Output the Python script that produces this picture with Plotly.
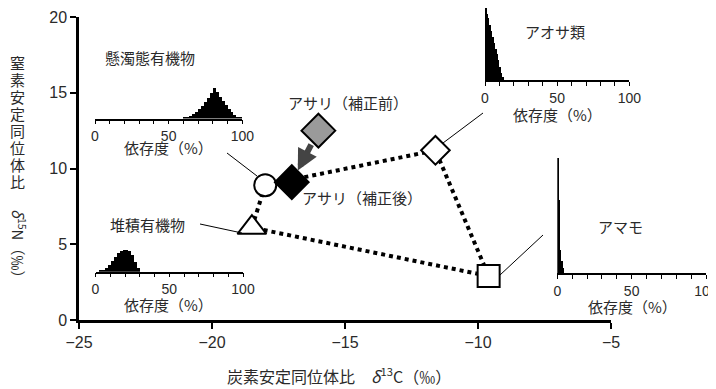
import plotly.graph_objects as go

W, H = 716, 389
OFF = 8  # page body margin offset
def PX(x): return (x - OFF) / W
def PY(y): return 1 - (y - OFF) / H

# ---- data (δ13C, δ15N) ----
src_names = ["懸濁態有機物", "アオサ類", "アマモ", "堆積有機物"]
src_d13c = [-18.0, -11.6, -9.6, -18.5]
src_d15n = [8.9, 11.2, 2.9, 6.1]
src_symbols = ["circle", "diamond", "square", "triangle-up"]
src_sizes = [22, 22, 22, 25]
clam_labels = ["アサリ（補正前）", "アサリ（補正後）"]
clam_d13c = [-16.0, -17.0]
clam_d15n = [12.5, 9.1]
clam_colors = ["#9a9a9a", "#000000"]

x_ticks = [-25, -20, -15, -10, -5]
y_ticks = [0, 5, 10, 15, 20]

# ---- dependence histograms (bin left edge %, relative frequency) ----
pom_bins = list(range(60, 100, 2))
pom_counts = [1, 2, 3, 5, 7, 10, 13, 17, 21, 26, 31, 27, 22, 18, 14, 10, 7, 4, 2, 1]
ulva_bins = list(range(0, 13))
ulva_counts = [72, 66, 62, 55, 49, 43, 37, 31, 26, 20, 13, 7, 3]
sed_bins = list(range(2, 30, 2))
sed_counts = [1, 2, 4, 7, 11, 15, 19, 21, 22, 22, 21, 17, 10, 4]
zos_bins = [0, 1, 2, 3, 4]
zos_counts = [115, 73, 23, 12, 5]
dep_ticks = list(range(0, 101, 10))
dep_ticktext = ["0" if v == 0 else "50" if v == 50 else "100" if v == 100 else "" for v in dep_ticks]

CJK = "Noto Sans CJK JP"
NUM = "Liberation Sans Narrow, Liberation Sans, Noto Sans CJK JP"
TXT = "#2a2a2a"

fig = go.Figure()

# mixing polygon (dotted)
order = [0, 1, 2, 3, 0]
fig.add_trace(go.Scatter(x=[src_d13c[i] for i in order], y=[src_d15n[i] for i in order],
                         mode="lines", line=dict(color="black", width=4, dash="dot"),
                         hoverinfo="skip", showlegend=False))
# source markers
for i in range(len(src_names)):
    fig.add_trace(go.Scatter(x=[src_d13c[i]], y=[src_d15n[i]], mode="markers", name=src_names[i],
                             opacity=1,
                             marker=dict(symbol=src_symbols[i], size=src_sizes[i], color="white",
                                         opacity=1, line=dict(color="black", width=2)),
                             showlegend=False))
# clam markers
for i in range(len(clam_labels)):
    fig.add_trace(go.Scatter(x=[clam_d13c[i]], y=[clam_d15n[i]], mode="markers", name=clam_labels[i],
                             opacity=1,
                             marker=dict(symbol="diamond", size=26, color=clam_colors[i], opacity=1,
                                         line=dict(color="black", width=2)),
                             showlegend=False))

# inset histograms
insets = [
    (pom_bins, pom_counts, 2, "x2", "y2"),
    (ulva_bins, ulva_counts, 1, "x3", "y3"),
    (sed_bins, sed_counts, 2, "x4", "y4"),
    (zos_bins, zos_counts, 1, "x5", "y5"),
]
for bins, counts, bw, xa, ya in insets:
    fig.add_trace(go.Bar(x=[b + bw / 2 for b in bins], y=counts, width=bw,
                         marker=dict(color="black", line=dict(width=0)),
                         xaxis=xa, yaxis=ya, showlegend=False, hoverinfo="skip"))

axis_common = dict(showgrid=False, zeroline=False, showline=True, linecolor="black",
                   ticks="outside", tickcolor="black", automargin=False)
layout = dict(
    width=W, height=H, autosize=False,
    margin=dict(l=0, r=0, t=0, b=0, pad=0, autoexpand=False),
    paper_bgcolor="white", plot_bgcolor="rgba(0,0,0,0)",
    bargap=0, showlegend=False,
    font=dict(family=CJK, color=TXT, size=15),
    xaxis=dict(domain=[PX(79), PX(611)], range=[-25, -5], tickvals=x_ticks,
               linewidth=2.5, tickwidth=2, ticklen=6,
               tickfont=dict(family=NUM, size=16, color=TXT), anchor="y", **axis_common),
    yaxis=dict(domain=[PY(320), PY(17)], range=[0, 20], tickvals=y_ticks,
               linewidth=2.5, tickwidth=2, ticklen=6,
               tickfont=dict(family=NUM, size=16, color=TXT), anchor="x", **axis_common),
)
# inset boxes: (x at 0 %, x at 100 %, baseline px, top px)
boxes = {2: (95, 242.3, 118.5, 78), 3: (485, 629.3, 80, 8),
         4: (95.5, 243, 271.7, 241), 5: (557.3, 706, 273.3, 155)}
for k, (x0, x1, yb, yt) in boxes.items():
    yt = max(yt, OFF)
    layout[f"xaxis{k}"] = dict(domain=[PX(x0), PX(x1)], range=[0, 100], tickvals=dep_ticks,
                               ticktext=dep_ticktext, linewidth=1.5, tickwidth=1.2, ticklen=4,
                               tickfont=dict(family=NUM, size=14, color=TXT),
                               anchor=f"y{k}", **axis_common)
    layout[f"yaxis{k}"] = dict(domain=[PY(yb), min(1.0, PY(yt))], range=[0, yb - yt], visible=False,
                               anchor=f"x{k}", automargin=False)
fig.update_layout(**layout)

ann = []
def label(text, x, y, size=15, **kw):
    ann.append(dict(text=text, x=PX(x), y=PY(y), xref="paper", yref="paper", showarrow=False,
                    font=dict(family=CJK, size=size, color=TXT), xanchor="center", yanchor="middle", **kw))

# source / clam labels
label(src_names[0], 150, 58)
label(src_names[1], 555, 32)
label(src_names[2], 620, 226)
label(src_names[3], 147, 224)
label(clam_labels[0], 348, 103)
label(clam_labels[1], 362, 198)
# dependence axis titles
for x, y in [(168, 147), (557, 114), (168, 304), (632, 306)]:
    label("依存度（%）", x, y)

# main axis titles
label("炭素安定同位体比　<i>δ</i><sup>13</sup>C（‰）", 339, 375, size=16)
for i, ch in enumerate("窒素安定同位体比"):
    label(ch, 17, 62 + 17.1 * i, size=15)
label("<i>δ</i><sup>15</sup>N（‰）", 19, 247, size=15, textangle=90)

# arrow from uncorrected to corrected clam value
ann.append(dict(x=clam_d13c[1], y=clam_d15n[1], ax=clam_d13c[0], ay=clam_d15n[0],
                xref="x", yref="y", axref="x", ayref="y", showarrow=True, text="",
                arrowhead=2, arrowsize=0.7, arrowwidth=6, arrowcolor="#444444",
                standoff=13, startstandoff=14))
fig.update_layout(annotations=ann)

# leader lines
for (xa, ya, xb, yb) in [(227, 153, 257, 176), (200, 224, 242, 233),
                         (443, 143, 483, 113), (500, 275, 543, 235)]:
    fig.add_shape(type="line", xref="paper", yref="paper", x0=PX(xa), y0=PY(ya),
                  x1=PX(xb), y1=PY(yb), line=dict(color="black", width=1))

fig.write_html("out.html")
